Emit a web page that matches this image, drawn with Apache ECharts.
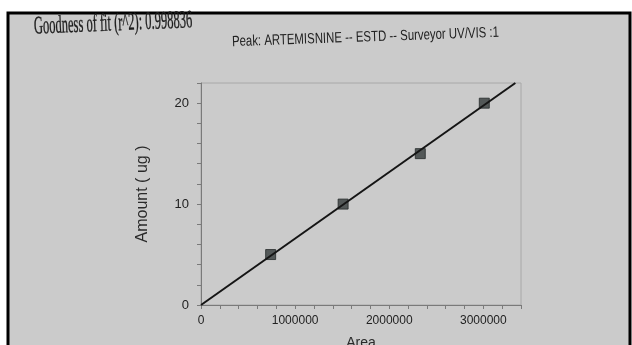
<!DOCTYPE html>
<html><head><meta charset="utf-8">
<script src="https://cdn.jsdelivr.net/npm/echarts@6/dist/echarts.min.js"></script>
<style>html,body{margin:0;padding:0;background:#fff}#c{width:632px;height:345px}</style>
</head><body><div id="c"></div>
<script>
// Calibration data
const areas = [740000, 1510000, 2330000, 3010000];
const amounts = [5, 10, 15, 20];
const fitLine = [[0, 0], [3340000, 22.0]];
const xTickLabels = [0, 1000000, 2000000, 3000000];
const yTickLabels = [0, 10, 20];
const fitTitle = 'Goodness of fit (r^2): 0.998836';
const peakTitle = 'Peak: ARTEMISNINE -- ESTD -- Surveyor UV/VIS :1';

const chart = echarts.init(document.getElementById('c'));
const sans = "'Liberation Sans Narrow','Liberation Sans',Arial,sans-serif";
chart.setOption({
  backgroundColor: '#ffffff',
  animation: false,
  graphic: [
    { type: 'rect', z: -100, silent: true,
      shape: { x: 8, y: 13, width: 622, height: 340 },
      style: { fill: '#cbcbcb', stroke: '#000', lineWidth: 3 } },
    { type: 'text', x: 34, y: 27, rotation: 0.04, scaleX: 0.5, silent: true,
      style: { text: fitTitle, font: "25px 'Liberation Serif','Times New Roman',serif",
               fill: '#1e1e1e', stroke: '#1e1e1e', lineWidth: 0.4,
               align: 'left', verticalAlign: 'middle' } },
    { type: 'text', x: 232, y: 42, rotation: 0.035, scaleX: 0.76, silent: true,
      style: { text: peakTitle, font: "15px 'Liberation Sans',Arial,sans-serif",
               fill: '#222', align: 'left', verticalAlign: 'middle' } }
  ],
  grid: { left: 201, right: 111, top: 83, bottom: 40, show: true,
          borderColor: '#a8a8a8', borderWidth: 1, backgroundColor: 'transparent',
          outerBoundsMode: 'none', containLabel: false },
  xAxis: {
    type: 'value', min: 0, max: 3400000, interval: 200000,
    name: 'Area', nameLocation: 'middle', nameGap: 31,
    nameTextStyle: { fontSize: 14, color: '#2a2a2a', fontFamily: "'Liberation Sans',Arial,sans-serif" },
    axisLine: { show: true, lineStyle: { color: '#7a7a7a', width: 1 } },
    axisTick: { show: true, length: 4, lineStyle: { color: '#7a7a7a' } },
    axisLabel: { interval: 0, margin: 10, fontSize: 12, color: '#222', fontFamily: sans,
                 formatter: v => xTickLabels.includes(v) ? String(v) : '' },
    splitLine: { show: false }
  },
  yAxis: {
    type: 'value', min: 0, max: 22, interval: 2,
    name: 'Amount ( ug )', nameLocation: 'middle', nameGap: 50,
    nameTextStyle: { fontSize: 16, color: '#2a2a2a', fontFamily: "'Liberation Sans',Arial,sans-serif" },
    axisLine: { show: true, lineStyle: { color: '#7a7a7a', width: 1 } },
    axisTick: { show: true, length: 4, lineStyle: { color: '#7a7a7a' } },
    axisLabel: { interval: 0, margin: 12, fontSize: 13, color: '#222', fontFamily: sans,
                 formatter: v => yTickLabels.includes(v) ? String(v) : '' },
    splitLine: { show: false }
  },
  series: [
    { type: 'scatter', z: 2, symbol: 'rect', symbolSize: 10,
      data: areas.map((a, i) => [a, amounts[i]]),
      itemStyle: { color: '#353b3b', borderColor: '#262a2a', borderWidth: 1 } },
    { type: 'line', z: 3, data: fitLine, showSymbol: false, clip: true,
      lineStyle: { color: '#151515', width: 2 } }
  ]
});
</script></body></html>
